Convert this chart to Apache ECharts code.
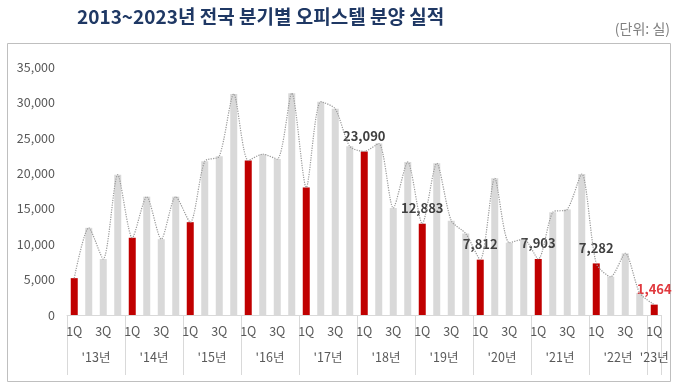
<!DOCTYPE html>
<html>
<head>
<meta charset="utf-8">
<script src="https://cdn.jsdelivr.net/npm/echarts@6/dist/echarts.min.js"></script>
<style>
html,body{margin:0;padding:0;background:#fff;}
#c{width:680px;height:390px;}
</style>
</head>
<body>
<div id="c"></div>
<script>
const years = ["'13년","'14년","'15년","'16년","'17년","'18년","'19년","'20년","'21년","'22년","'23년"];
const quarters = ["1Q","2Q","3Q","4Q"];
const values = [
  5200, 12300, 7900, 19800,
  10900, 16700, 10700, 16700,
  13100, 21700, 22400, 31200,
  21800, 22700, 22000, 31300,
  18000, 30100, 29100, 23800,
  23090, 24200, 15100, 21600,
  12883, 21400, 13300, 11500,
  7812, 19300, 10200, 10700,
  7903, 14500, 14900, 19900,
  7282, 5400, 8700, 3100,
  1464
];
const labeledIdx = [20, 24, 28, 32, 36, 40];
const yTicks = [0, 5000, 10000, 15000, 20000, 25000, 30000, 35000];

const categories = values.map((v, i) => years[Math.floor(i / 4)] + ' ' + quarters[i % 4]);
const fontFam = '"Noto Sans CJK KR", "Noto Sans", sans-serif';

const barData = values.map((v, i) => {
  const isQ1 = i % 4 === 0;
  const item = { value: v, itemStyle: { color: isQ1 ? '#c00000' : '#d9d9d9' } };
  if (labeledIdx.indexOf(i) >= 0) {
    item.label = {
      show: true, position: 'top', distance: 9,
      fontFamily: fontFam, fontSize: 13, fontWeight: 'bold',
      color: i === 40 ? '#e0393e' : '#404040',
      formatter: (p) => p.value.toLocaleString('en-US')
    };
  }
  return item;
});

const chart = echarts.init(document.getElementById('c'), null, { renderer: 'canvas' });
chart.setOption({
  animation: false,
  backgroundColor: '#ffffff',
  title: [
    { text: '2013~2023년 전국 분기별 오피스텔 분양 실적', left: 72, top: 2,
      textStyle: { fontFamily: fontFam, fontSize: 19, fontWeight: 'bold', color: '#1f3864' } },
    { text: '(단위: 실)', right: 5, top: 17,
      textStyle: { fontFamily: fontFam, fontSize: 14, fontWeight: 'normal', color: '#7f7f7f' } }
  ],
  graphic: [
    { type: 'rect', shape: { x: 7.5, y: 43.5, width: 663, height: 338 },
      style: { fill: 'none', stroke: '#bfbfbf', lineWidth: 1 }, z: -1 }
  ],
  grid: { left: 67, right: 18.5, top: 67, bottom: 75, containLabel: false },
  xAxis: [
    {
      type: 'category', data: categories, position: 'bottom',
      axisLine: { show: true, lineStyle: { color: '#d9d9d9', width: 1 } },
      axisTick: { show: true, interval: (i) => i % 4 === 0, length: 60, lineStyle: { color: '#d9d9d9' } },
      axisLabel: {
        interval: (i) => i % 2 === 0, margin: 10,
        fontFamily: fontFam, fontSize: 12.5, color: '#595959',
        formatter: (v, i) => quarters[i % 4]
      }
    },
    {
      type: 'category', data: categories, position: 'bottom',
      axisLine: { show: false }, axisTick: { show: false },
      axisLabel: {
        interval: (i) => i % 4 === 1 || i === 40, margin: 36,
        fontFamily: fontFam, fontSize: 12.5, color: '#595959',
        formatter: (v, i) => {
          const y = years[Math.floor(i / 4)];
          return i === 40 ? '{b|' + y + '}' : '{a|' + y + '}';
        },
        rich: {
          a: { fontFamily: fontFam, fontSize: 12.5, color: '#595959', padding: [0, 0, 0, 14.5] },
          b: { fontFamily: fontFam, fontSize: 12.5, color: '#595959' }
        }
      }
    }
  ],
  yAxis: {
    type: 'value', min: 0, max: 35000, interval: 5000,
    axisLine: { show: false }, axisTick: { show: false }, splitLine: { show: false },
    axisLabel: {
      margin: 12, fontFamily: fontFam, fontSize: 12.5, color: '#595959',
      formatter: (v) => yTicks.indexOf(v) >= 0 ? v.toLocaleString('en-US') : ''
    }
  },
  series: [
    { type: 'bar', data: barData, barWidth: 7, xAxisIndex: 0 },
    { type: 'line', data: values, xAxisIndex: 0, smooth: 0.25, symbol: 'none', z: 3,
      lineStyle: { type: 'dotted', color: '#999999', width: 1.2 } }
  ]
});
</script>
</body>
</html>
